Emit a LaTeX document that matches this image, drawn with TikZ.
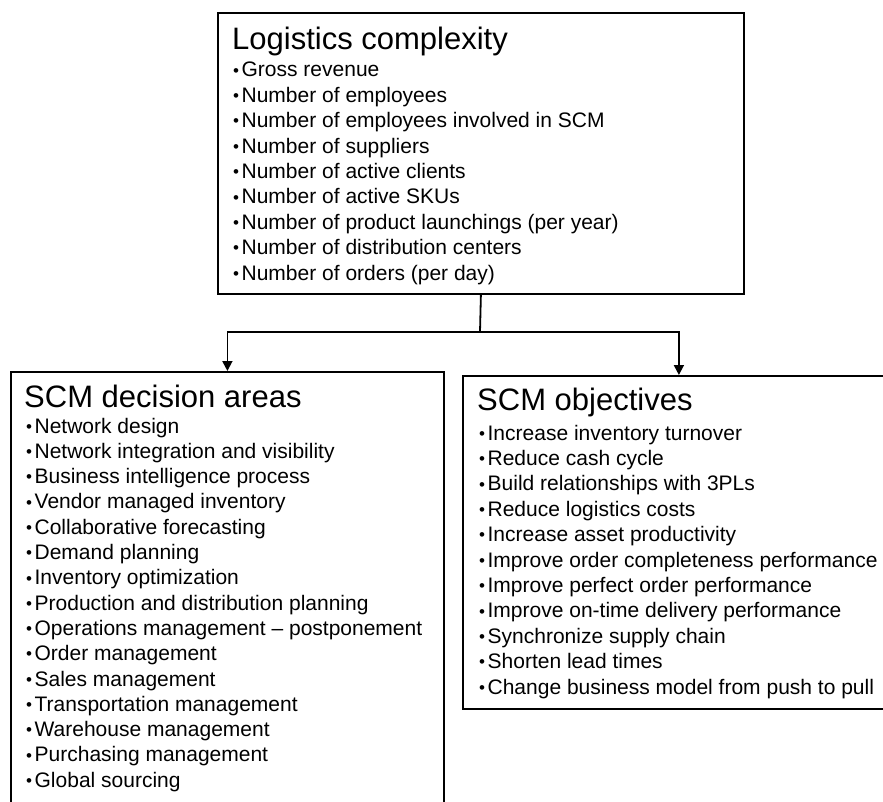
\documentclass[tikz,border=0pt]{standalone}
\usepackage{fontspec}
\setmainfont{Liberation Sans}
\usetikzlibrary{arrows.meta,calc}
\newcommand{\blt}{\raisebox{0.8pt}{\fontsize{17}{17}\selectfont•}\hspace{2.5pt}}
\begin{document}
\begin{tikzpicture}[x=1pt,y=-1pt,
  box/.style={draw=black,line width=1.8pt,rectangle,inner sep=0pt,anchor=north west},
  ttl/.style={anchor=base west,inner sep=0pt,font=\fontsize{31}{31}\selectfont},
  itm/.style={anchor=base west,inner sep=0pt,font=\fontsize{21}{21}\selectfont},
  conn/.style={line width=1.8pt},
  arr/.style={line width=1.8pt,-{Triangle[width=10pt,length=10pt]}}]
\useasboundingbox (0,0) rectangle (883,802);
\clip (0,0) rectangle (883,802);
% boxes
\node[box,minimum width=526pt,minimum height=281pt] (top) at (217,12) {};
\node[box,minimum width=433pt,minimum height=470pt] (left) at (10,371) {};
\node[box,minimum width=432pt,minimum height=333pt] (right) at (462,375) {};
% titles
\node[ttl] (toptitle) at (232,50) {Logistics complexity};
\node[ttl] (lefttitle) at (24,407) {SCM decision areas};
\node[ttl] (righttitle) at (477,410) {SCM objectives};
% items
\foreach \t [count=\i] in {Gross revenue,Number of employees,Number of employees involved in SCM,Number of suppliers,Number of active clients,Number of active SKUs,Number of product launchings (per year),Number of distribution centers,Number of orders (per day)}
  \node[itm] (top-\i) at (233,{77+(\i-1)*25.4}) {\blt\t};
\foreach \t [count=\i] in {Network design,Network integration and visibility,Business intelligence process,Vendor managed inventory,Collaborative forecasting,Demand planning,Inventory optimization,Production and distribution planning,Operations management – postponement,Order management,Sales management,Transportation management,Warehouse management,Purchasing management,Global sourcing}
  \node[itm] (left-\i) at (26,{433+(\i-1)*25.3}) {\blt\t};
\foreach \t [count=\i] in {Increase inventory turnover,Reduce cash cycle,Build relationships with 3PLs,Reduce logistics costs,Increase asset productivity,Improve order completeness performance,Improve perfect order performance,Improve on-time delivery performance,Synchronize supply chain,Shorten lead times,Change business model from push to pull}
  \node[itm] (right-\i) at (479,{440+(\i-1)*25.4}) {\blt\t};
% connectors
\coordinate (split) at (480,332);
\draw[conn] (top.south) -- (split);
\draw[arr] (split) -| (left.north);
\draw[arr] (split) -| (right.north);
\end{tikzpicture}
\end{document}
